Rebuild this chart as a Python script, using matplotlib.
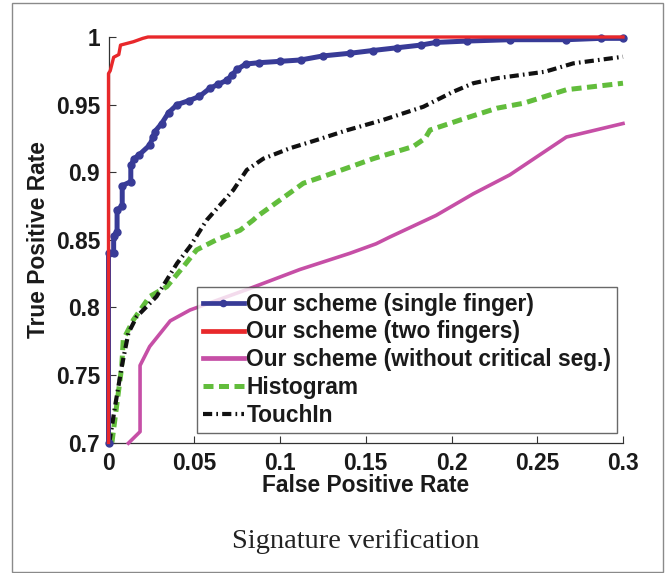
import matplotlib
matplotlib.use("Agg")
import matplotlib.pyplot as plt
from matplotlib.patches import Rectangle
from matplotlib.lines import Line2D

# ---- data ----
single_x = [0, 0, 0.003, 0.003, 0.005, 0.005, 0.008, 0.008, 0.013, 0.013, 0.015, 0.018,
            0.024, 0.026, 0.027, 0.031, 0.035, 0.040, 0.047, 0.053, 0.059, 0.064, 0.069,
            0.072, 0.075, 0.080, 0.088, 0.100, 0.112, 0.125, 0.141, 0.154, 0.168, 0.182,
            0.191, 0.209, 0.234, 0.267, 0.287, 0.300]
single_y = [0.70, 0.84, 0.84, 0.853, 0.856, 0.872, 0.875, 0.89, 0.893, 0.905, 0.910, 0.913,
            0.920, 0.926, 0.930, 0.936, 0.944, 0.950, 0.953, 0.956, 0.962, 0.965, 0.968,
            0.972, 0.976, 0.980, 0.981, 0.982, 0.983, 0.986, 0.988, 0.990, 0.992, 0.994,
            0.996, 0.997, 0.998, 0.998, 0.999, 0.999]

two_x = [0, 0, 0.001, 0.003, 0.006, 0.007, 0.0145, 0.020, 0.023, 0.300]
two_y = [0.70, 0.973, 0.975, 0.985, 0.987, 0.994, 0.9965, 0.999, 1.0, 1.0]

nocrit_x = [0.0116, 0.0184, 0.0184, 0.024, 0.036, 0.0475, 0.0825, 0.1116, 0.1408, 0.156,
            0.164, 0.191, 0.2127, 0.234, 0.267, 0.300]
nocrit_y = [0.6995, 0.708, 0.757, 0.771, 0.790, 0.798, 0.814, 0.828, 0.840, 0.847,
            0.852, 0.868, 0.884, 0.898, 0.926, 0.936]

hist_x = [0.002, 0.0057, 0.0077, 0.0086, 0.0145, 0.024, 0.034, 0.0436, 0.0514, 0.063,
          0.0767, 0.0844, 0.0864, 0.100, 0.1136, 0.125, 0.139, 0.1544, 0.1777, 0.1846,
          0.1875, 0.205, 0.2264, 0.242, 0.267, 0.300]
hist_y = [0.700, 0.7365, 0.756, 0.776, 0.7907, 0.808, 0.8153, 0.830, 0.8425, 0.850,
          0.857, 0.8646, 0.867, 0.8794, 0.8918, 0.8967, 0.903, 0.910, 0.919, 0.925,
          0.9312, 0.9386, 0.9473, 0.951, 0.961, 0.9658]

touch_x = [0.0005, 0.0038, 0.0077, 0.0116, 0.0164, 0.028, 0.040, 0.0475, 0.0573, 0.0728,
           0.0806, 0.0903, 0.1058, 0.1214, 0.139, 0.160, 0.1836, 0.201, 0.2127, 0.2264,
           0.2545, 0.271, 0.300]
touch_y = [0.700, 0.7266, 0.756, 0.781, 0.793, 0.808, 0.8326, 0.845, 0.8646, 0.8868,
           0.9016, 0.910, 0.9177, 0.9238, 0.931, 0.9386, 0.9484, 0.9595, 0.9658, 0.9695,
           0.9743, 0.9805, 0.9854]

labels = ["Our scheme (single finger)", "Our scheme (two fingers)",
          "Our scheme (without critical seg.)", "Histogram", "TouchIn"]
xticks = [0, 0.05, 0.1, 0.15, 0.2, 0.25, 0.3]
xticklabels = ["0", "0.05", "0.1", "0.15", "0.2", "0.25", "0.3"]
yticks = [0.7, 0.75, 0.8, 0.85, 0.9, 0.95, 1.0]
yticklabels = ["0.7", "0.75", "0.8", "0.85", "0.9", "0.95", "1"]
caption = "Signature verification"

# ---- style ----
W, H = 667, 573
plt.rcParams['font.family'] = ['Liberation Sans', 'DejaVu Sans']
FS = 16.4
fig = plt.figure(figsize=(W / 100, H / 100), dpi=100)
ax = fig.add_axes([108.5 / W, 1 - 442.5 / H, (623 - 108.5) / W, (442.5 - 37) / H])

c_blue = '#383b97'
c_red = '#e8282b'
c_mag = '#c64fa6'
c_green = '#62bd3c'
c_black = '#111111'

ax.plot(hist_x, hist_y, color=c_green, lw=3.6, dashes=(2.0, 1.1), clip_on=False,
        label=labels[3], zorder=2)
ax.plot(touch_x, touch_y, color=c_black, lw=3.0, dashes=(2.2, 1.0, 0.4, 1.0),
        clip_on=False, label=labels[4], zorder=2)
ax.plot(nocrit_x, nocrit_y, color=c_mag, lw=2.6, clip_on=False, label=labels[2], zorder=3)
ax.plot(single_x, single_y, color=c_blue, lw=3.6, marker='o', ms=5, clip_on=False,
        label=labels[0], zorder=4)
ax.plot(two_x, two_y, color=c_red, lw=2.4, clip_on=False, label=labels[1], zorder=5)

ax.set_xlim(0, 0.3)
ax.set_ylim(0.7, 1.0)
ax.set_xticks(xticks)
ax.set_xticklabels(xticklabels)
ax.set_yticks(yticks)
ax.set_yticklabels(yticklabels)
for s in ['top', 'right']:
    ax.spines[s].set_visible(False)
for s in ['left', 'bottom']:
    ax.spines[s].set_color('#333333')
    ax.spines[s].set_linewidth(0.9)
ax.tick_params(direction='in', length=5, width=0.8, color='#333333', labelsize=FS)
ax.tick_params(axis='x', pad=7)
ax.tick_params(axis='y', pad=6)
for lab in ax.get_xticklabels() + ax.get_yticklabels():
    lab.set_fontweight('bold')
    lab.set_color('#1a1a1a')

ax.set_xlabel("False Positive Rate", fontsize=FS, fontweight='bold', color='#1a1a1a',
              labelpad=-1)
ax.set_ylabel("True Positive Rate", fontsize=FS, fontweight='bold', color='#1a1a1a',
              labelpad=4)

handles = [
    Line2D([], [], color=c_blue, lw=3.4, marker='o', ms=4.5, markevery=[1]),
    Line2D([], [], color=c_red, lw=3.4),
    Line2D([], [], color=c_mag, lw=3.4),
    Line2D([], [], color=c_green, lw=3.6, dashes=(2.0, 1.1)),
    Line2D([], [], color=c_black, lw=3.0, dashes=(2.2, 1.0, 0.4, 1.0)),
]
leg = fig.legend(handles, labels, loc='upper left',
                 bbox_to_anchor=(197 / W, 1 - 287 / H), bbox_transform=fig.transFigure,
                 prop={'size': FS, 'weight': 'bold'}, frameon=True, fancybox=False,
                 handlelength=1.8, handletextpad=0.12, labelspacing=0.21,
                 borderpad=0.25, borderaxespad=0)
leg.get_frame().set_edgecolor('#444444')
leg.get_frame().set_linewidth(1.0)
for t in leg.get_texts():
    t.set_color('#1a1a1a')

fig.text(356 / W, 1 - 541 / H, caption, ha='center', va='center', fontsize=20.5,
         family=['Liberation Serif', 'DejaVu Serif'], color='#222222')

fig.patches.append(Rectangle((12 / W, 1 / H), (663 - 12) / W, (570 - 1) / H,
                             transform=fig.transFigure, fill=False,
                             edgecolor='#8a8a8a', lw=1.0))

fig.savefig("out.png", dpi=100)
